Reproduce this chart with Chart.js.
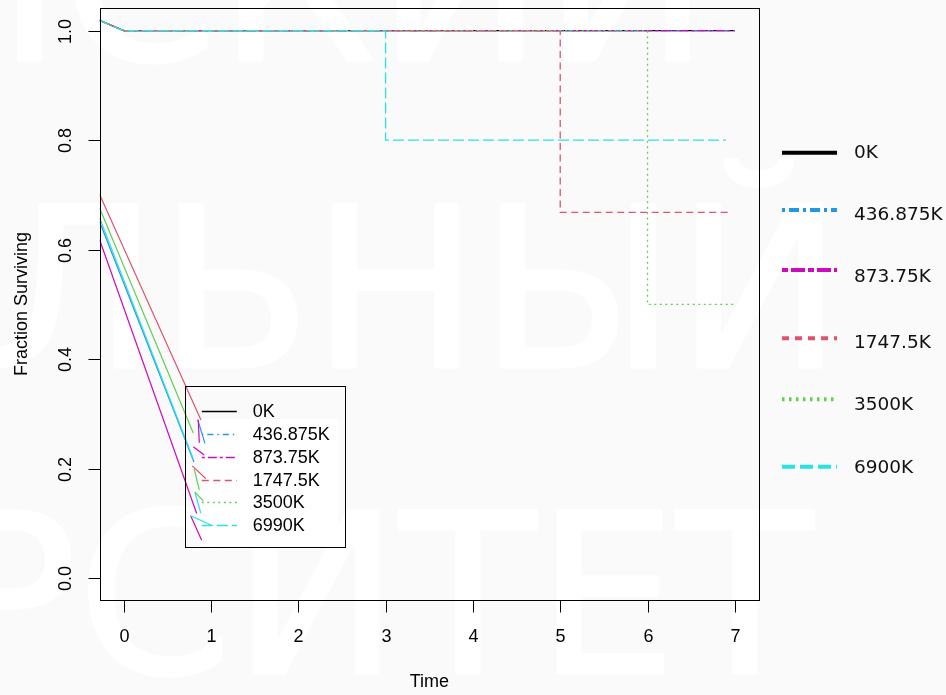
<!DOCTYPE html>
<html>
<head>
<meta charset="utf-8">
<script src="https://cdn.jsdelivr.net/npm/chart.js@4.4.1/dist/chart.umd.min.js"></script>
<style>
html, body { margin: 0; padding: 0; background: #fafafa; }
canvas { display: block; }
</style>
</head>
<body>
<canvas id="survival-chart" width="946" height="695"></canvas>
<script>
// Group names (outer legend and inset legend differ in the last one)
const seriesNames = ['0K', '436.875K', '873.75K', '1747.5K', '3500K', '6900K'];
const insetNames = ['0K', '436.875K', '873.75K', '1747.5K', '3500K', '6990K'];

// Survival curves: time / fraction surviving
const time0K = [-0.276, 0, 7];
const surv0K = [1.019, 1, 1];
const time436 = [-0.276, 0, 7];
const surv436 = [1.019, 1, 1];
const time873 = [-0.276, 0, 7];
const surv873 = [1.019, 1, 1];
const time1747 = [-0.276, 0, 5, 5, 6.92];
const surv1747 = [1.019, 1, 1, 0.668, 0.668];
const time3500 = [-0.276, 0, 6, 6, 7];
const surv3500 = [1.019, 1, 1, 0.5, 0.5];
const time6900 = [-0.276, 0, 3, 3, 6.9];
const surv6900 = [1.019, 1, 1, 0.8, 0.8];

// Stray solid traces at the lower left (null = break)
const traceX436 = [-0.276, 0.805, null, 0.847, 0.931];
const traceY436 = [0.651, 0.212, null, 0.290, 0.246];
const traceX873 = [-0.276, 0.836, null, 0.854, 0.866, null, 0.797, 0.923, null, 0.767, 0.893];
const traceY873 = [0.618, 0.118, null, 0.289, 0.247, null, 0.240, 0.225, null, 0.114, 0.069];
const traceX1747 = [-0.276, 0.885, null, 0.786, 0.939];
const traceY1747 = [0.701, 0.289, null, 0.205, 0.182];
const traceX3500 = [-0.276, 0.797, null, 0.808, 0.866, null, 0.816, 0.911];
const traceY3500 = [0.676, 0.265, null, 0.199, 0.161, null, 0.157, 0.141];
const traceX6900 = [-0.276, 0.794, null, 0.816, 0.882, null, 0.767, 1.0];
const traceY6900 = [0.658, 0.219, null, 0.157, 0.119, null, 0.114, 0.097];

// Axis ticks
const xTicks = [0, 1, 2, 3, 4, 5, 6, 7];
const yTicks = [0, 0.2, 0.4, 0.6, 0.8, 1.0];
const yTickLabels = ['0.0', '0.2', '0.4', '0.6', '0.8', '1.0'];

// Background watermark words
const watermarkWords = ['КАЗАНСКИЙ', 'ФЕДЕРАЛЬНЫЙ', 'УНИВЕРСИТЕТ'];

// Styles (R palette, lty 1..6)
const seriesColors = ['#000000', '#2297E6', '#CD0BBC', '#DF536B', '#61D04F', '#28E2E5'];
const plotDash = [[], [1.5, 4, 6, 4], [3, 3, 9, 3], [7, 4.5], [2, 3.5], [11, 4]];
const legendDash = [[], [3, 4, 10, 4], [6, 3, 14, 3], [7, 6], [2.5, 4.5], [13, 5]];

function toPoints(xs, ys) {
    return xs.map((v, i) => v === null ? { x: 0, y: null } : { x: v, y: ys[i] });
}

const curveTimes = [time0K, time436, time873, time1747, time3500, time6900];
const curveSurv = [surv0K, surv436, surv873, surv1747, surv3500, surv6900];
const traceXs = [null, traceX436, traceX873, traceX1747, traceX3500, traceX6900];
const traceYs = [null, traceY436, traceY873, traceY1747, traceY3500, traceY6900];

const datasets = [];
seriesNames.forEach((name, i) => {
    datasets.push({
        label: name,
        data: toPoints(curveTimes[i], curveSurv[i]),
        borderColor: seriesColors[i],
        borderWidth: 1.3,
        borderDash: plotDash[i],
        pointRadius: 0,
        spanGaps: false,
        order: 20 - i
    });
    if (traceXs[i]) {
        datasets.push({
            label: name + ' trace',
            data: toPoints(traceXs[i], traceYs[i]),
            borderColor: seriesColors[i],
            borderWidth: 1.2,
            pointRadius: 0,
            spanGaps: false,
            order: 10 - i
        });
    }
});

// Paper background + faint watermark
const backgroundPlugin = {
    id: 'background',
    beforeDraw(chart) {
        const ctx = chart.ctx;
        ctx.save();
        ctx.fillStyle = '#fafafa';
        ctx.fillRect(0, 0, chart.width, chart.height);
        ctx.fillStyle = '#ffffff';
        ctx.strokeStyle = '#ffffff';
        ctx.lineWidth = 3;
        ctx.lineJoin = 'round';
        ctx.font = '223px "DejaVu Sans"';
        ctx.textAlign = 'right';
        ctx.textBaseline = 'alphabetic';
        const anchors = [[710, 60], [843, 367], [813, 673]];
        watermarkWords.forEach((w, i) => {
            ctx.strokeText(w, anchors[i][0], anchors[i][1]);
            ctx.fillText(w, anchors[i][0], anchors[i][1]);
        });
        ctx.restore();
    },
    beforeDatasetsDraw(chart) {
        // the inset legend has a white fill below its first row
        const ctx = chart.ctx;
        const x = chart.scales.x, y = chart.scales.y;
        const left = x.getPixelForValue(0.7);
        const top = y.getPixelForValue(0.351);
        ctx.save();
        ctx.fillStyle = '#ffffff';
        ctx.fillRect(left + 16, top + 33, 138, 127);
        ctx.restore();
    }
};

// R-style box, axes, titles and both legends
const axesPlugin = {
    id: 'rAxes',
    afterDraw(chart) {
        const ctx = chart.ctx;
        const a = chart.chartArea;
        const x = chart.scales.x, y = chart.scales.y;
        ctx.save();
        ctx.strokeStyle = '#000';
        ctx.fillStyle = '#000';
        ctx.lineWidth = 1;
        ctx.setLineDash([]);

        const L = Math.round(a.left) + 0.5, R = Math.round(a.right) + 0.5;
        const T = Math.round(a.top) + 0.5, B = Math.round(a.bottom) + 0.5;
        ctx.strokeRect(L, T, R - L, B - T);

        ctx.font = '18px "Liberation Sans", Arial, sans-serif';
        // x axis
        ctx.textAlign = 'center';
        ctx.textBaseline = 'middle';
        xTicks.forEach(v => {
            const px = Math.round(x.getPixelForValue(v)) + 0.5;
            ctx.beginPath();
            ctx.moveTo(px, B);
            ctx.lineTo(px, B + 12);
            ctx.stroke();
            ctx.fillText(String(v), px, B + 37);
        });
        ctx.fillText('Time', (a.left + a.right) / 2, B + 82);

        // y axis
        yTicks.forEach((v, i) => {
            const py = Math.round(y.getPixelForValue(v)) + 0.5;
            ctx.beginPath();
            ctx.moveTo(L - 12, py);
            ctx.lineTo(L, py);
            ctx.stroke();
            ctx.save();
            ctx.translate(L - 34, py);
            ctx.rotate(-Math.PI / 2);
            ctx.fillText(yTickLabels[i], 0, 0);
            ctx.restore();
        });
        ctx.save();
        ctx.translate(22, (a.top + a.bottom) / 2);
        ctx.rotate(-Math.PI / 2);
        ctx.fillText('Fraction Surviving', 0, 0);
        ctx.restore();

        // inset legend
        const left = x.getPixelForValue(0.7);
        const top = y.getPixelForValue(0.351);
        ctx.strokeRect(Math.round(left) + 0.5, Math.round(top) + 0.5, 160, 161);
        ctx.textAlign = 'left';
        insetNames.forEach((name, i) => {
            const ry = top + 25.5 + i * 22.7;
            ctx.strokeStyle = seriesColors[i];
            ctx.lineWidth = 1.3;
            ctx.setLineDash(plotDash[i]);
            ctx.beginPath();
            ctx.moveTo(left + 17, Math.round(ry) + 0.5);
            ctx.lineTo(left + 52, Math.round(ry) + 0.5);
            ctx.stroke();
            ctx.fillStyle = '#000';
            ctx.fillText(name, left + 68, ry + 1);
        });

        // outer legend
        const lineY = [152.7, 210, 270, 338.3, 399.3, 466.7];
        const textY = [153, 215, 276.7, 343.3, 405, 468];
        ctx.font = '18.5px "DejaVu Sans", sans-serif';
        seriesNames.forEach((name, i) => {
            ctx.strokeStyle = seriesColors[i];
            ctx.lineWidth = 4;
            ctx.setLineDash(legendDash[i]);
            ctx.beginPath();
            ctx.moveTo(a.right + 23, lineY[i]);
            ctx.lineTo(a.right + 78, lineY[i]);
            ctx.stroke();
            ctx.fillStyle = '#111';
            ctx.fillText(name, a.right + 95, textY[i]);
        });
        ctx.restore();
    }
};

new Chart(document.getElementById('survival-chart'), {
    type: 'line',
    data: { datasets: datasets },
    options: {
        responsive: false,
        animation: false,
        devicePixelRatio: 1,
        layout: { padding: { top: 8, right: 187, left: 0, bottom: 0 } },
        plugins: {
            legend: { display: false },
            tooltip: { enabled: false }
        },
        elements: { line: { tension: 0 }, point: { radius: 0 } },
        scales: {
            x: {
                type: 'linear',
                min: -0.276,
                max: 7.277,
                ticks: { display: false },
                grid: { display: false },
                border: { display: false },
                afterFit: function(scale) { scale.height = 95; }
            },
            y: {
                type: 'linear',
                min: -0.04,
                max: 1.0415,
                ticks: { display: false },
                grid: { display: false },
                border: { display: false },
                afterFit: function(scale) { scale.width = 99.6; }
            }
        }
    },
    plugins: [backgroundPlugin, axesPlugin]
});
</script>
</body>
</html>
